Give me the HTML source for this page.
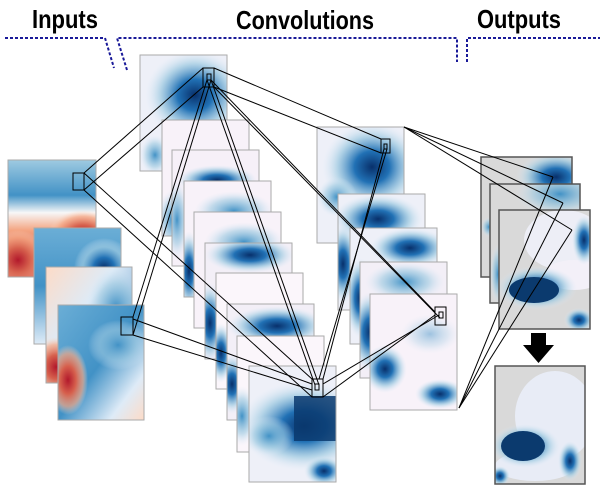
<!DOCTYPE html>
<html><head><meta charset="utf-8"><style>
html,body{margin:0;padding:0;background:#fff;width:600px;height:490px;overflow:hidden}
svg{display:block}
svg svg *{stroke:none}
.t{font-family:"Liberation Sans",sans-serif;font-weight:bold;font-size:26px;fill:#000}
</style></head><body>
<svg width="600" height="490" viewBox="0 0 600 490" xmlns="http://www.w3.org/2000/svg">
<defs>
<radialGradient id="gB"><stop offset="0" stop-color="#08306b"/><stop offset="0.35" stop-color="#2171b5"/><stop offset="0.7" stop-color="#9ecae1" stop-opacity="0.7"/><stop offset="1" stop-color="#deebf7" stop-opacity="0"/></radialGradient>
<radialGradient id="gL"><stop offset="0" stop-color="#4292c6"/><stop offset="0.6" stop-color="#9ecae1" stop-opacity="0.6"/><stop offset="1" stop-color="#deebf7" stop-opacity="0"/></radialGradient>
<radialGradient id="gR"><stop offset="0" stop-color="#b2182b"/><stop offset="0.4" stop-color="#d6604d"/><stop offset="0.75" stop-color="#f4a582" stop-opacity="0.7"/><stop offset="1" stop-color="#fddbc7" stop-opacity="0"/></radialGradient>
<linearGradient id="in1" x1="0" y1="0" x2="0" y2="1"><stop offset="0" stop-color="#9ecae1"/><stop offset="0.3" stop-color="#4292c6"/><stop offset="0.45" stop-color="#f7f7f7"/><stop offset="0.6" stop-color="#f4a582"/><stop offset="0.8" stop-color="#d6604d"/><stop offset="1" stop-color="#b2182b"/></linearGradient>
<linearGradient id="in2" x1="0" y1="0" x2="0" y2="1"><stop offset="0" stop-color="#6baed6"/><stop offset="0.5" stop-color="#4292c6"/><stop offset="1" stop-color="#deebf7"/></linearGradient>
<linearGradient id="in3" x1="0" y1="0" x2="1" y2="1"><stop offset="0" stop-color="#fddbc7"/><stop offset="0.4" stop-color="#deebf7"/><stop offset="1" stop-color="#2171b5"/></linearGradient>
<linearGradient id="in4" x1="0" y1="0" x2="1" y2="1"><stop offset="0" stop-color="#6baed6"/><stop offset="0.5" stop-color="#4292c6"/><stop offset="0.8" stop-color="#deebf7"/><stop offset="1" stop-color="#fddbc7"/></linearGradient>
</defs>

<text class="t" x="32" y="28" textLength="66" lengthAdjust="spacingAndGlyphs">Inputs</text>
<text class="t" x="236" y="29" textLength="138" lengthAdjust="spacingAndGlyphs">Convolutions</text>
<text class="t" x="477" y="28" textLength="84" lengthAdjust="spacingAndGlyphs">Outputs</text>

<g stroke="#1a1a99" stroke-width="2" stroke-dasharray="3,2" fill="none">
<polyline points="5,38 105,38 114,68"/>
<polyline points="127,70 117,38 457,38 457,62"/>
<polyline points="467,62 467,38 600,38"/>
</g>

<g stroke="#aaa" stroke-width="1">
<svg x="8" y="160" width="88" height="117"><rect width="88" height="117" fill="url(#in1)"/><ellipse cx="10" cy="100" rx="30" ry="30" fill="url(#gR)"/><ellipse cx="75" cy="75" rx="35" ry="25" fill="url(#gR)"/></svg>
<rect x="8" y="160" width="88" height="117" fill="none"/>
<svg x="34" y="228" width="87" height="116"><rect width="87" height="116" fill="url(#in2)"/><ellipse cx="70" cy="40" rx="30" ry="30" fill="url(#gB)"/></svg>
<rect x="34" y="228" width="87" height="116" fill="none"/>
<svg x="46" y="267" width="86" height="116"><rect width="86" height="116" fill="url(#in3)"/><ellipse cx="70" cy="40" rx="30" ry="40" fill="url(#gL)"/><ellipse cx="10" cy="100" rx="25" ry="30" fill="url(#gR)"/></svg>
<rect x="46" y="267" width="86" height="116" fill="none"/>
<svg x="58" y="305" width="86" height="115"><rect width="86" height="115" fill="url(#in4)"/><ellipse cx="60" cy="40" rx="30" ry="25" fill="url(#gL)"/><ellipse cx="10" cy="75" rx="20" ry="35" fill="url(#gR)"/></svg>
<rect x="58" y="305" width="86" height="115" fill="none"/>
</g>

<g stroke="#aaa" stroke-width="1">
<svg x="140" y="55" width="87" height="116"><rect width="87" height="116" fill="#eef0f8"/><ellipse cx="55" cy="40" rx="50" ry="45" fill="url(#gB)"/><ellipse cx="15" cy="100" rx="15" ry="20" fill="url(#gL)"/></svg><rect x="140" y="55" width="87" height="116" fill="none"/>
<svg x="162" y="120" width="87" height="116"><rect width="87" height="116" fill="#f8f2f9"/><ellipse cx="10" cy="100" rx="15" ry="30" fill="url(#gL)"/></svg><rect x="162" y="120" width="87" height="116" fill="none"/>
<svg x="172" y="150" width="87" height="116"><rect width="87" height="116" fill="#f6f0f8"/><ellipse cx="45" cy="30" rx="40" ry="15" fill="url(#gB)"/><ellipse cx="5" cy="70" rx="12" ry="40" fill="url(#gL)"/></svg><rect x="172" y="150" width="87" height="116" fill="none"/>
<svg x="184" y="181" width="87" height="116"><rect width="87" height="116" fill="#f8f2f9"/><ellipse cx="50" cy="30" rx="40" ry="20" fill="url(#gL)"/><ellipse cx="5" cy="90" rx="12" ry="40" fill="url(#gB)"/></svg><rect x="184" y="181" width="87" height="116" fill="none"/>
<svg x="194" y="212" width="87" height="116"><rect width="87" height="116" fill="#f8f2f9"/><ellipse cx="50" cy="30" rx="40" ry="20" fill="url(#gL)"/></svg><rect x="194" y="212" width="87" height="116" fill="none"/>
<svg x="205" y="243" width="87" height="116"><rect width="87" height="116" fill="#f3eff7"/><ellipse cx="45" cy="12" rx="45" ry="18" fill="url(#gB)"/><ellipse cx="5" cy="80" rx="15" ry="40" fill="url(#gB)"/></svg><rect x="205" y="243" width="87" height="116" fill="none"/>
<svg x="216" y="273" width="87" height="116"><rect width="87" height="116" fill="#fbf6fb"/><ellipse cx="5" cy="80" rx="12" ry="30" fill="url(#gB)"/></svg><rect x="216" y="273" width="87" height="116" fill="none"/>
<svg x="227" y="304" width="87" height="116"><rect width="87" height="116" fill="#f3eff7"/><ellipse cx="50" cy="22" rx="50" ry="20" fill="url(#gB)"/><ellipse cx="5" cy="80" rx="15" ry="30" fill="url(#gB)"/></svg><rect x="227" y="304" width="87" height="116" fill="none"/>
<svg x="237" y="336" width="87" height="116"><rect width="87" height="116" fill="#fbf6fb"/><ellipse cx="5" cy="80" rx="15" ry="30" fill="url(#gL)"/></svg><rect x="237" y="336" width="87" height="116" fill="none"/>
<svg x="249" y="366" width="87" height="116"><rect width="87" height="116" fill="#eef0f8"/><ellipse cx="55" cy="60" rx="65" ry="45" fill="url(#gB)"/><rect x="45" y="30" width="42" height="45" fill="#0b3a6e" opacity="0.85"/><ellipse cx="20" cy="70" rx="25" ry="20" fill="url(#gL)"/><ellipse cx="75" cy="105" rx="20" ry="15" fill="url(#gB)"/></svg><rect x="249" y="366" width="87" height="116" fill="none"/>
</g>

<g stroke="#aaa" stroke-width="1">
<svg x="317" y="127" width="87" height="116"><rect width="87" height="116" fill="#eef0f8"/><ellipse cx="55" cy="40" rx="50" ry="45" fill="url(#gB)"/><ellipse cx="20" cy="70" rx="20" ry="20" fill="url(#gL)"/></svg><rect x="317" y="127" width="87" height="116" fill="none"/>
<svg x="338" y="194" width="87" height="116"><rect width="87" height="116" fill="#eef0f8"/><ellipse cx="40" cy="25" rx="45" ry="25" fill="url(#gB)"/><ellipse cx="5" cy="70" rx="15" ry="40" fill="url(#gB)"/></svg><rect x="338" y="194" width="87" height="116" fill="none"/>
<svg x="350" y="228" width="87" height="116"><rect width="87" height="116" fill="#eef0f8"/><ellipse cx="60" cy="20" rx="40" ry="20" fill="url(#gB)"/><ellipse cx="10" cy="70" rx="15" ry="40" fill="url(#gB)"/></svg><rect x="350" y="228" width="87" height="116" fill="none"/>
<svg x="360" y="262" width="87" height="116"><rect width="87" height="116" fill="#f3eff7"/><ellipse cx="45" cy="20" rx="40" ry="20" fill="url(#gL)"/><ellipse cx="10" cy="70" rx="20" ry="40" fill="url(#gB)"/></svg><rect x="360" y="262" width="87" height="116" fill="none"/>
<svg x="370" y="294" width="87" height="116"><rect width="87" height="116" fill="#f8f2f9"/><ellipse cx="15" cy="75" rx="22" ry="24" fill="url(#gB)"/><ellipse cx="70" cy="100" rx="25" ry="15" fill="url(#gB)"/><ellipse cx="60" cy="40" rx="30" ry="20" fill="url(#gL)" opacity="0.5"/></svg><rect x="370" y="294" width="87" height="116" fill="none"/>
</g>

<g stroke="#555" stroke-width="1.5">
<svg x="481" y="157" width="91" height="120"><rect width="91" height="120" fill="#d9d9d9"/><ellipse cx="75" cy="20" rx="40" ry="25" fill="url(#gB)"/><ellipse cx="8" cy="70" rx="8" ry="10" fill="url(#gL)"/></svg><rect x="481" y="157" width="91" height="120" fill="none"/>
<svg x="490" y="184" width="90" height="119"><rect width="90" height="119" fill="#d9d9d9"/><ellipse cx="70" cy="10" rx="45" ry="22" fill="url(#gL)"/><ellipse cx="8" cy="90" rx="8" ry="30" fill="url(#gL)"/></svg><rect x="490" y="184" width="90" height="119" fill="none"/>
<svg x="499" y="210" width="91" height="119"><rect width="91" height="119" fill="#d9d9d9"/><ellipse cx="65" cy="30" rx="40" ry="30" fill="#eef0f8" opacity="0.9"/><ellipse cx="75" cy="65" rx="30" ry="15" fill="#f3f0f8"/><ellipse cx="38" cy="78" rx="40" ry="22" fill="url(#gB)"/><ellipse cx="35" cy="80" rx="25" ry="13" fill="#0b3a6e"/><ellipse cx="85" cy="30" rx="12" ry="25" fill="url(#gB)"/><ellipse cx="80" cy="110" rx="15" ry="12" fill="url(#gB)"/></svg><rect x="499" y="210" width="91" height="119" fill="none"/>
<svg x="495" y="366" width="90" height="118"><rect width="90" height="118" fill="#d9d9d9"/><ellipse cx="60" cy="50" rx="40" ry="45" fill="#e8ecf6"/><ellipse cx="40" cy="100" rx="40" ry="15" fill="#e8ecf6"/><ellipse cx="30" cy="80" rx="35" ry="22" fill="url(#gB)"/><ellipse cx="28" cy="80" rx="22" ry="15" fill="#0b3a6e"/><ellipse cx="75" cy="95" rx="12" ry="20" fill="url(#gB)"/><ellipse cx="5" cy="110" rx="10" ry="10" fill="url(#gB)"/></svg><rect x="495" y="366" width="90" height="118" fill="none"/>
</g>
<polygon points="531,333 546,333 546,345 554,345 538.5,363 523,345 531,345" fill="#000"/>

<g fill="none" stroke="#000" stroke-width="1">
<rect x="73" y="173" width="11" height="17"/>
<rect x="121" y="317" width="12" height="18"/>
<rect x="203" y="68" width="11" height="19"/><rect x="207" y="74" width="4" height="6"/>
<rect x="381" y="139" width="9" height="14"/><rect x="384" y="144" width="3" height="5"/>
<rect x="435" y="307" width="11" height="18"/><rect x="439" y="312" width="4" height="6"/>
<rect x="312" y="379" width="11" height="18"/><rect x="315" y="384" width="4" height="6"/>
</g>
<g stroke="#000" stroke-width="1" fill="none">
<line x1="84" y1="173" x2="203" y2="68"/><line x1="84" y1="190" x2="203" y2="87"/>
<line x1="84" y1="173" x2="312" y2="379"/><line x1="84" y1="190" x2="312" y2="397"/>
<line x1="133" y1="317" x2="207" y2="80"/><line x1="133" y1="335" x2="211" y2="80"/>
<line x1="133" y1="319" x2="312" y2="384"/><line x1="133" y1="335" x2="312" y2="390"/>
<line x1="214" y1="68" x2="381" y2="139"/><line x1="214" y1="87" x2="381" y2="153"/>
<line x1="214" y1="87" x2="440" y2="318"/><line x1="211" y1="80" x2="435" y2="312"/>
<line x1="207" y1="80" x2="315" y2="385"/><line x1="211" y1="80" x2="319" y2="385"/>
<line x1="323" y1="379" x2="384" y2="149"/><line x1="319" y1="379" x2="387" y2="149"/>
<line x1="323" y1="397" x2="435" y2="315"/><line x1="323" y1="384" x2="439" y2="315"/>
<line x1="404" y1="127" x2="553" y2="177"/><line x1="404" y1="127" x2="563" y2="203"/><line x1="404" y1="127" x2="572" y2="230"/>
<line x1="459" y1="408" x2="553" y2="177"/><line x1="459" y1="408" x2="563" y2="203"/><line x1="459" y1="408" x2="572" y2="230"/>
</g>
</svg>
</body></html>
